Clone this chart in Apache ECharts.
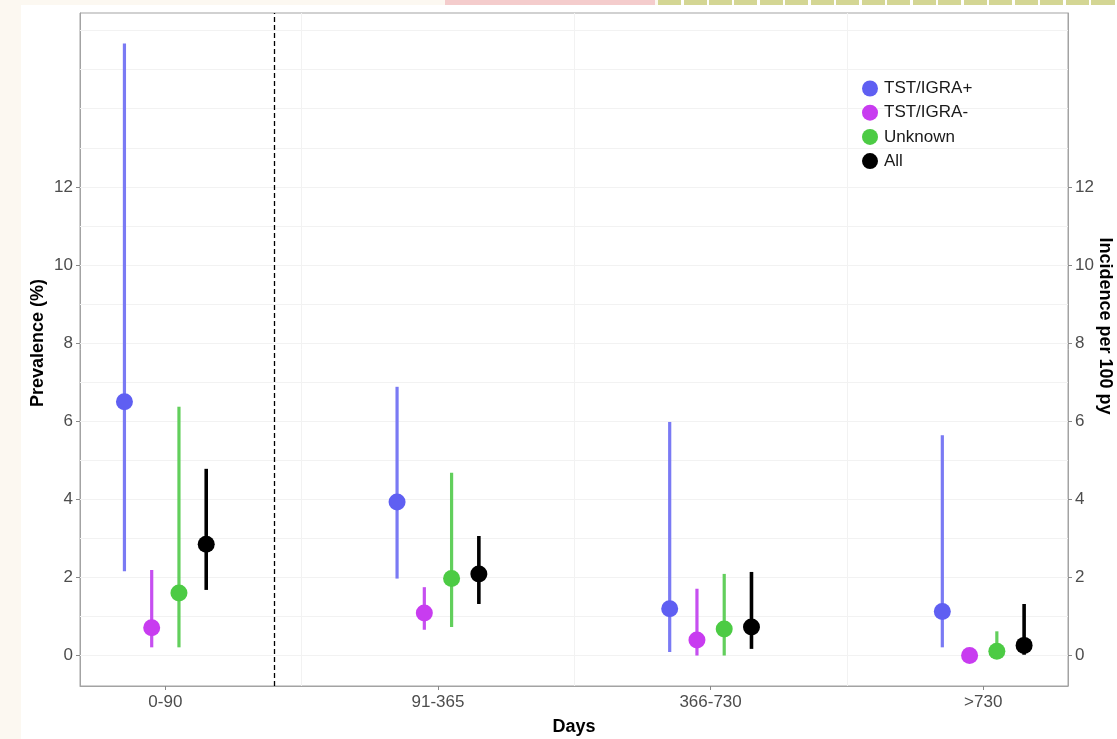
<!DOCTYPE html>
<html><head><meta charset="utf-8">
<script src="https://cdn.jsdelivr.net/npm/echarts@6/dist/echarts.min.js"></script>
<style>
html,body{margin:0;padding:0;background:#fcf8f1;overflow:hidden;}
#paper{position:absolute;left:21px;top:5px;width:1096px;height:734px;background:#ffffff;}
#pink{position:absolute;left:445px;top:0;width:210px;height:5px;background:#f4cccc;}
#dash{position:absolute;left:658px;top:0;width:459px;height:5px;background:repeating-linear-gradient(to right,#d4d694 0px,#d4d694 23px,#ffffff 23px,#ffffff 25.5px);}
#c{position:absolute;left:0;top:0;width:1117px;height:739px;}
</style>
</head><body>
<div id="paper"></div><div id="pink"></div><div id="dash"></div>
<div id="c"></div>
<script>
// ---- data ----
const categories = ['0-90', '91-365', '366-730', '>730'];
const seriesNames = ['TST/IGRA+', 'TST/IGRA-', 'Unknown', 'All'];
const estPos = [6.50, 3.93, 1.20, 1.13];
const loPos  = [2.16, 1.97, 0.09, 0.21];
const hiPos  = [15.67, 6.88, 5.98, 5.64];
const estNeg = [0.71, 1.09, 0.40, 0.00];
const loNeg  = [0.21, 0.66, 0.00, 0.00];
const hiNeg  = [2.19, 1.75, 1.71, 0.00];
const estUnk = [1.60, 1.97, 0.68, 0.11];
const loUnk  = [0.21, 0.73, 0.00, 0.00];
const hiUnk  = [6.37, 4.68, 2.09, 0.62];
const estAll = [2.85, 2.09, 0.73, 0.26];
const loAll  = [1.68, 1.32, 0.17, 0.02];
const hiAll  = [4.78, 3.06, 2.14, 1.32];
const yTicks = [0, 2, 4, 6, 8, 10, 12];
const yGridValues = [0,1,2,3,4,5,6,7,8,9,10,11,12,13,14,15,16];
const xGridValues = [0.5, 1.5, 2.5];
const dodgeOffsets = [-0.15, -0.05, 0.05, 0.15];
const cutoffX = 0.4;
const leftTitle = 'Prevalence (%)';
const rightTitle = 'Incidence per 100 py';
const xTitle = 'Days';

// ---- style ----
const colors = ['#5f5ff2', '#c83cf0', '#4ccb44', '#000000'];
const lineColors = ['#7a7af4', '#c64ff0', '#62cf5c', '#000000'];
const yMin = -0.78, yMax = 16.45, xMin = -0.313, xMax = 3.311;
const FONT = 'Liberation Sans, Arial, sans-serif';

function makeSeries(idx, est, lo, hi) {
  return {
    type: 'custom',
    name: seriesNames[idx],
    itemStyle: { color: colors[idx] },
    encode: { x: 0, y: [1, 2, 3] },
    z: 5,
    data: categories.map((c, i) => [i + dodgeOffsets[idx], est[i], lo[i], hi[i]]),
    renderItem(params, api) {
      const x = api.value(0);
      const p = api.coord([x, api.value(1)]);
      const a = api.coord([x, api.value(2)]);
      const b = api.coord([x, api.value(3)]);
      const ch = [];
      if (a[1] - b[1] > 0.5) {
        ch.push({ type: 'line', shape: { x1: a[0], y1: a[1], x2: b[0], y2: b[1] },
          style: { stroke: lineColors[idx], lineWidth: idx === 3 ? 3.6 : 3.2 } });
      }
      ch.push({ type: 'circle', shape: { cx: p[0], cy: p[1], r: 8.5 }, style: { fill: colors[idx] } });
      return { type: 'group', children: ch };
    }
  };
}

const chart = echarts.init(document.getElementById('c'), null, { renderer: 'canvas' });
const axisGray = '#a3a3a3';
const tickLabel = { color: '#4d4d4d', fontSize: 17, fontFamily: FONT };
const titleStyle = { color: '#000', fontSize: 18, fontWeight: 'bold', fontFamily: FONT };
const titleFont = 'bold 18px ' + FONT;
chart.setOption({
  backgroundColor: 'transparent',
  animation: false,
  grid: { left: 80, right: 49, top: 13, bottom: 53, outerBoundsMode: 'none', containLabel: false,
          show: true, backgroundColor: '#ffffff', borderColor: axisGray, borderWidth: 1 },
  legend: {
    orient: 'vertical', left: 857, top: 75, itemGap: 7.2, itemWidth: 16, itemHeight: 16, z: 20,
    textStyle: { color: '#1a1a1a', fontSize: 17, fontFamily: FONT, padding: [0, 0, 0, 1] },
    data: seriesNames.map(n => ({ name: n, icon: 'circle' }))
  },
  graphic: [
    { type: 'text', x: 38, y: 343, rotation: Math.PI / 2, z: 10,
      style: { text: leftTitle, font: titleFont, fill: '#000', align: 'center', verticalAlign: 'middle' } },
    { type: 'text', x: 1105, y: 326, rotation: -Math.PI / 2, z: 10,
      style: { text: rightTitle, font: titleFont, fill: '#000', align: 'center', verticalAlign: 'middle' } }
  ],
  xAxis: {
    type: 'value', min: xMin, max: xMax, position: 'bottom',
    axisLine: { show: true, onZero: false, lineStyle: { color: axisGray } },
    axisTick: { show: true, customValues: [0, 1, 2, 3], length: 4, lineStyle: { color: '#888' } },
    axisLabel: { customValues: [0, 1, 2, 3], formatter: v => categories[Math.round(v)] || '', margin: 8, ...tickLabel },
    splitLine: { show: false },
    name: xTitle, nameLocation: 'middle', nameGap: 32, nameTextStyle: titleStyle
  },
  yAxis: [{
    type: 'value', min: yMin, max: yMax, position: 'left',
    axisLine: { show: true, onZero: false, lineStyle: { color: axisGray } },
    axisTick: { show: true, customValues: yTicks, length: 4, lineStyle: { color: '#888' } },
    axisLabel: { customValues: yTicks, margin: 7, ...tickLabel },
    splitLine: { show: false }
  }, {
    type: 'value', min: yMin, max: yMax, position: 'right',
    axisLine: { show: true, onZero: false, lineStyle: { color: axisGray } },
    axisTick: { show: true, customValues: yTicks, length: 4, lineStyle: { color: '#888' } },
    axisLabel: { customValues: yTicks, margin: 7, ...tickLabel },
    splitLine: { show: false }
  }],
  series: [
    {
      type: 'line', name: 'grid', data: [], silent: true, z: 1,
      markLine: {
        silent: true, symbol: 'none', label: { show: false }, animation: false,
        lineStyle: { color: '#f2f2f2', width: 1, type: 'solid' },
        data: yGridValues.map(v => ({ yAxis: v })).concat(xGridValues.map(v => ({ xAxis: v })))
      }
    },
    {
      type: 'line', name: 'cutoff', data: [], silent: true, z: 2,
      markLine: {
        silent: true, symbol: 'none', label: { show: false }, animation: false,
        lineStyle: { color: '#000', width: 1.3, type: [5, 3] },
        data: [{ xAxis: cutoffX }]
      }
    },
    makeSeries(0, estPos, loPos, hiPos),
    makeSeries(1, estNeg, loNeg, hiNeg),
    makeSeries(2, estUnk, loUnk, hiUnk),
    makeSeries(3, estAll, loAll, hiAll)
  ]
});
</script>
</body></html>
